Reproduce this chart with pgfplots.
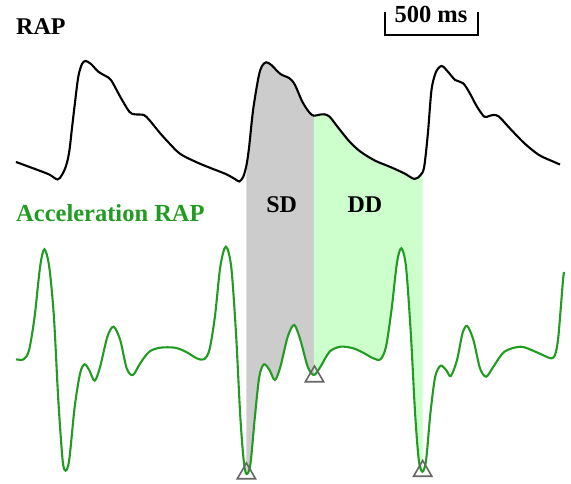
\documentclass[border=0pt]{standalone}
\usepackage{pgfplots}
\pgfplotsset{compat=1.18}
\usepgfplotslibrary{fillbetween}
\usepackage{fontspec}
\setmainfont{Liberation Serif}
\definecolor{accgreen}{RGB}{34,155,34}
\definecolor{sdgray}{RGB}{204,204,204}
\definecolor{ddgreen}{RGB}{204,255,204}
\definecolor{trigray}{RGB}{102,102,102}
\begin{document}
\begin{tikzpicture}
\begin{axis}[
  scale only axis, width=571pt, height=484pt,
  xmin=0, xmax=571, ymin=0, ymax=484, y dir=reverse,
  hide axis, clip=false, set layers,
]
\addplot[draw=none] coordinates {(0,0) (571,484)};
% RAP
\addplot[name path=rap, black, line width=2.1pt, smooth, tension=0.5] coordinates {
(16,162) (35,169) (49.2,174.5) (57.5,179.5) (61.9,175) (66,166) (69.2,152) (72,128) (74.7,105) (78.3,76.7)
(82,64) (85.6,61) (91,64) (98.3,71.7) (105.6,76) (111,80) (120.2,96.7) (129.3,111.7)
(134.7,114.3) (143.8,115) (149.3,120) (160.2,133.3) (169.3,143.3) (180.3,154)
(196.7,162.3) (211.2,168.3) (225.8,174) (234.9,179) (239.3,181.5) (243.3,176.7) (246.5,165)
(249,148) (253.1,110) (258.6,76.7) (262,66) (266.2,62.3) (271.3,65) (280.4,74) (289.5,78.3)
(295,85) (302.3,101.7) (309.5,112.7) (313.9,115.7) (319,114.8) (324.1,114.3) (329.6,116.7)
(338.7,128.3) (349.6,141.7) (360.5,151.7) (375.1,160.7) (389.7,166.7) (404.2,173.3)
(414.4,179) (420.6,175) (424.2,166.7) (427.9,133.3) (431.5,90) (436,72) (441.7,66)
(447.9,71.7) (455.2,80) (463.2,83.3) (469.8,93.3) (477,106.7) (484.3,116.7)
(489,116) (493.4,115) (498.9,116.5) (509.8,128.3) (524.4,143.3) (539,155) (553.5,161.7) (560,164.5)
};
% Acceleration RAP
\addplot[name path=acc, accgreen, line width=2.1pt, smooth, tension=0.5] coordinates {
(16,359.3) (23.7,359.3) (29.1,350) (34.6,316.7) (40.1,266.7) (44.4,249.3) (49.2,266.7)
(53.9,316.7) (58.3,400) (62.6,460) (65.5,470.7) (69.2,460) (74.7,406.7) (80.1,373.3)
(84.5,364.3) (89.2,370) (94.7,380.7) (100.1,366.7) (107.4,336.7) (113.6,326.7) (120.2,340)
(126.7,368.3) (132.9,375) (140.2,363.3) (149.3,351.7) (160.2,347.7) (174.8,347.7)
(185.7,351.7) (196.7,358.3) (203.9,359.3) (209.4,350) (214.9,316.7) (220.3,266.7)
(225.8,246.7) (231.2,266.7) (236,333.3) (240.3,416.7) (244,463.3) (246.9,474) (250.5,463.3)
(254.9,416.7) (259.3,376.7) (264,364.3) (269.5,370) (274.9,380) (280.4,366.7) (287.7,336.7)
(294.2,325) (300.4,340) (307.7,366.7) (313.9,375) (320.5,366.7) (329.6,351.7) (340.5,346.7)
(353.2,348.3) (364.2,353.3) (373.3,358.3) (380.5,359.3) (386,346.7) (391.5,310) (396.9,263.3)
(401.3,248.3) (406,266.7) (410.8,333.3) (415.1,413.3) (418.8,460) (422.4,471.7) (426.1,460)
(430.4,413.3) (435.2,376.7) (440.6,365.7) (446.1,370) (450.8,376) (457,360) (462.5,333.3)
(467.2,326) (473.4,340) (480,368.3) (486.2,376.7) (493.4,366.7) (504.4,351.7) (520.8,346.7)
(535.3,351.7) (547,357) (551.7,358.3) (555,355) (558,340) (561,305) (563,280) (564,272)
};
\addplot[sdgray] fill between[of=rap and acc, soft clip={domain=246.3:313.9}];
\addplot[ddgreen] fill between[of=rap and acc, soft clip={domain=313.9:422.6}];
% triangles
\addplot[only marks, mark=triangle, mark size=10.5pt, mark options={draw=trigray, line width=1.6pt, fill=none}] coordinates {
(246.4,473.5) (314.5,376.5) (422.7,471)
};
% scale bar
\addplot[black, line width=1.3pt] coordinates {(385,12.5) (385,35) (478,35) (478,12.5)};
\node[anchor=base west, font=\fontsize{24}{28}\selectfont\bfseries, inner sep=0pt] at (axis cs:16,35) {RAP};
\node[anchor=base west, font=\fontsize{24.5}{28}\selectfont\bfseries, text=accgreen, inner sep=0pt] at (axis cs:16,222) {Acceleration RAP};
\node[anchor=base, font=\fontsize{24}{28}\selectfont\bfseries, inner sep=0pt] at (axis cs:281.7,213) {SD};
\node[anchor=base, font=\fontsize{24}{28}\selectfont\bfseries, inner sep=0pt] at (axis cs:365,213) {DD};
\node[anchor=base, font=\fontsize{24.5}{28}\selectfont\bfseries, inner sep=0pt] at (axis cs:431,22.7) {500 ms};
\end{axis}
\end{tikzpicture}
\end{document}
